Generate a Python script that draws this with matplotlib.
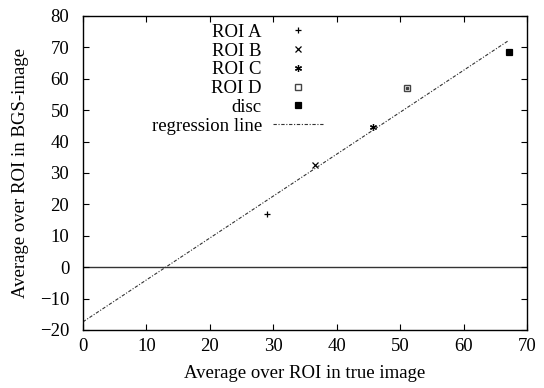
import numpy as np
import matplotlib
matplotlib.use("Agg")
from matplotlib import pyplot as plt

plt.rcParams['font.family'] = ['Liberation Serif', 'DejaVu Serif']

# data
labels = ["ROI A", "ROI B", "ROI C", "ROI D", "disc"]
true_vals = [29.0, 36.5, 45.7, 51.0, 67.2]
bgs_vals = [16.8, 32.5, 44.6, 57.0, 68.4]
markers = ['+', 'x', (6, 2, 0), 's', 's']
filled = [True, True, True, False, True]

reg_slope = 1.335
reg_intercept = -17.4
reg_x = [0, 67.1]

xticks = [0, 10, 20, 30, 40, 50, 60, 70]
yticks = [-20, -10, 0, 10, 20, 30, 40, 50, 60, 70, 80]

fs = 13.5

fig = plt.figure(figsize=(5.44, 3.88), dpi=100)
ax = fig.add_axes([0.1526, 0.1495, 0.8162, 0.8093])

ax.axhline(0, color='#333333', lw=1.0, zorder=1)

for lab, x, y, m, f in zip(labels, true_vals, bgs_vals, markers, filled):
    if f:
        ax.plot([x], [y], ls='none', marker=m, color='black', ms=5, mew=0.9, label=lab)
    else:
        ax.plot([x], [y], ls='none', marker=m, mfc='white', mec='#444444', ms=5, mew=1.0, label=lab)
        ax.plot([x], [y], ls='none', marker='s', color='#444444', ms=1.5)

rx = np.array(reg_x)
ax.plot(rx, reg_slope * rx + reg_intercept, color='#333333', lw=0.8,
        dashes=[3, 1.5, 1, 1.5], label="regression line")

ax.set_xlim(0, 70)
ax.set_ylim(-20, 80)
ax.set_xticks(xticks)
ax.set_yticks(yticks)
ax.tick_params(direction='in', top=True, right=True, length=4, labelsize=fs)
ax.tick_params(axis='x', pad=6)
ax.tick_params(axis='y', pad=10)
for s in ax.spines.values():
    s.set_linewidth(1.0)

ax.set_xlabel("Average over ROI in true image", fontsize=fs, labelpad=7)
ax.set_ylabel("Average over ROI in BGS-image", fontsize=fs, labelpad=8)

leg = ax.legend(loc='upper right', bbox_to_anchor=(0.5405, 0.975), frameon=False,
                markerfirst=False, fontsize=fs, handlelength=2.67,
                labelspacing=0.085, handletextpad=0.59, borderaxespad=0, borderpad=0)

fig.savefig("out.png", dpi=100)
